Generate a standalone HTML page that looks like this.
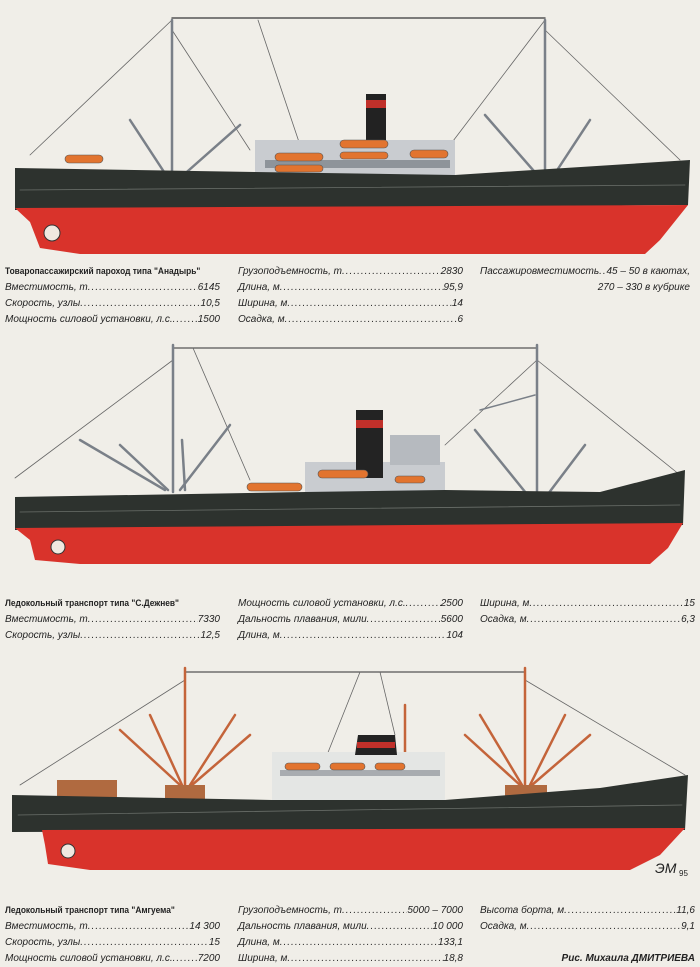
<!DOCTYPE html>
<html><head><meta charset="utf-8">
<style>
body{margin:0;background:#f0eee8;width:700px;height:959px;overflow:hidden;position:relative;font-family:"Liberation Sans",sans-serif;}
svg{position:absolute;left:0;top:0}
.col{position:absolute;font-size:10px;font-style:italic;color:#222;line-height:16px}
.t{font-style:normal;font-weight:bold;font-size:9.5px;transform:scaleX(.88);transform-origin:left;white-space:nowrap}
.r{display:flex;white-space:nowrap}
.r .d{flex:1;overflow:hidden;letter-spacing:1px}
.r .d:after{content:"..............................................................................................................."}
</style></head><body>
<svg width="700" height="959" viewBox="0 0 700 959">
<g stroke-linecap="round">
<!-- SHIP 1 -->
<line x1="172" y1="18" x2="545" y2="18" stroke="#555" stroke-width="1.5"/>
<g stroke="#666" stroke-width="0.8" fill="none">
<line x1="172" y1="20" x2="30" y2="155"/><line x1="172" y1="30" x2="250" y2="150"/>
<line x1="545" y1="20" x2="450" y2="145"/><line x1="545" y1="30" x2="680" y2="160"/>
<line x1="258" y1="20" x2="300" y2="145"/>
</g>
<g stroke="#7a8088" stroke-width="2.5">
<line x1="172" y1="20" x2="172" y2="180"/><line x1="545" y1="20" x2="545" y2="178"/>
<line x1="130" y1="120" x2="168" y2="178"/><line x1="240" y1="125" x2="180" y2="178"/>
<line x1="485" y1="115" x2="540" y2="178"/><line x1="590" y1="120" x2="552" y2="178"/>
<line x1="382" y1="108" x2="382" y2="140" stroke-width="1.5"/>
</g>
<rect x="255" y="140" width="200" height="38" fill="#c9ccd0"/>
<rect x="265" y="160" width="185" height="8" fill="#8e949a"/>
<rect x="366" y="94" width="20" height="46" fill="#222"/>
<rect x="366" y="100" width="20" height="8" fill="#c0302a"/>
<g fill="#e2742f" stroke="#555" stroke-width="0.6">
<rect x="275" y="153" width="48" height="8" rx="4"/><rect x="275" y="165" width="48" height="7" rx="3.5"/>
<rect x="340" y="140" width="48" height="8" rx="4"/><rect x="340" y="152" width="48" height="7" rx="3.5"/>
<rect x="410" y="150" width="38" height="8" rx="4"/>
<rect x="65" y="155" width="38" height="8" rx="4"/>
</g>
<polygon points="15,168 255,172 455,175 690,160 688,205 15,210" fill="#2d322e"/>
<line x1="20" y1="190" x2="685" y2="185" stroke="#6a6f6a" stroke-width="0.8"/>
<polygon points="15,208 688,205 660,240 645,254 80,254 40,248 30,222" fill="#d9332b"/>
<circle cx="52" cy="233" r="8" fill="#f0e8e0" stroke="#333"/>
<!-- SHIP 2 -->
<line x1="173" y1="348" x2="537" y2="348" stroke="#555" stroke-width="1.2"/>
<g stroke="#666" stroke-width="0.8" fill="none">
<line x1="193" y1="348" x2="250" y2="480"/><line x1="537" y1="360" x2="680" y2="475"/>
<line x1="537" y1="360" x2="445" y2="445"/><line x1="173" y1="360" x2="15" y2="478"/>
</g>
<g stroke="#7a8088" stroke-width="2.5">
<line x1="173" y1="345" x2="173" y2="492"/><line x1="537" y1="345" x2="537" y2="500"/>
<line x1="80" y1="440" x2="165" y2="490"/><line x1="120" y1="445" x2="168" y2="490"/>
<line x1="230" y1="425" x2="180" y2="490"/><line x1="182" y1="440" x2="185" y2="490"/>
<line x1="475" y1="430" x2="530" y2="498"/><line x1="585" y1="445" x2="545" y2="498"/>
<line x1="480" y1="410" x2="535" y2="395" stroke-width="1.5"/>
</g>
<rect x="305" y="462" width="140" height="30" fill="#c9ccd0"/>
<rect x="390" y="435" width="50" height="30" fill="#b6babf"/>
<rect x="356" y="410" width="27" height="68" fill="#232323"/>
<rect x="356" y="420" width="27" height="8" fill="#c0302a"/>
<g fill="#e2742f" stroke="#555" stroke-width="0.6">
<rect x="247" y="483" width="55" height="8" rx="4"/><rect x="318" y="470" width="50" height="8" rx="4"/><rect x="395" y="476" width="30" height="7" rx="3.5"/>
</g>
<polygon points="15,497 305,492 445,490 600,492 685,470 683,525 15,530" fill="#2d322e"/>
<line x1="20" y1="512" x2="680" y2="505" stroke="#6a6f6a" stroke-width="0.8"/>
<polygon points="15,528 683,523 668,548 650,564 80,564 35,560 30,540" fill="#d9332b"/>
<circle cx="58" cy="547" r="7" fill="#f0e8e0" stroke="#333"/>
<!-- SHIP 3 -->
<line x1="185" y1="672" x2="525" y2="672" stroke="#555" stroke-width="1.2"/>
<g stroke="#666" stroke-width="0.8" fill="none">
<line x1="185" y1="680" x2="20" y2="785"/><line x1="525" y1="680" x2="685" y2="775"/>
<line x1="360" y1="672" x2="325" y2="760"/><line x1="380" y1="672" x2="395" y2="735"/>
</g>
<g stroke="#c4643a" stroke-width="2.5">
<line x1="185" y1="668" x2="185" y2="790"/><line x1="525" y1="668" x2="525" y2="790"/>
<line x1="120" y1="730" x2="180" y2="785"/><line x1="150" y1="715" x2="182" y2="785"/>
<line x1="235" y1="715" x2="190" y2="785"/><line x1="250" y1="735" x2="192" y2="785"/>
<line x1="465" y1="735" x2="520" y2="785"/><line x1="480" y1="715" x2="522" y2="785"/>
<line x1="565" y1="715" x2="530" y2="785"/><line x1="590" y1="735" x2="532" y2="785"/>
<line x1="405" y1="705" x2="405" y2="760"/>
</g>
<rect x="272" y="752" width="173" height="50" fill="#e4e6e4"/>
<rect x="280" y="770" width="160" height="6" fill="#a8acb0"/>
<polygon points="355,755 358,735 395,735 397,755" fill="#232323"/>
<rect x="357" y="742" width="38" height="6" fill="#c0302a"/>
<g fill="#e2742f" stroke="#555" stroke-width="0.6">
<rect x="285" y="763" width="35" height="7" rx="3.5"/><rect x="330" y="763" width="35" height="7" rx="3.5"/><rect x="375" y="763" width="30" height="7" rx="3.5"/>
</g>
<rect x="57" y="780" width="60" height="18" fill="#b06a40"/>
<rect x="165" y="785" width="40" height="15" fill="#b06a40"/><rect x="505" y="785" width="42" height="15" fill="#b06a40"/>
<polygon points="12,795 272,800 445,800 600,788 688,775 685,830 12,832" fill="#2d322e"/>
<line x1="18" y1="815" x2="682" y2="805" stroke="#6a6f6a" stroke-width="0.8"/>
<polygon points="42,830 685,828 660,855 630,870 90,870 48,864 45,845" fill="#d9332b"/>
<circle cx="68" cy="851" r="7" fill="#f0e8e0" stroke="#333"/>
<text x="655" y="873" font-family="Liberation Sans" font-style="italic" font-size="14" fill="#222">ЭМ</text>
<text x="679" y="876" font-family="Liberation Sans" font-size="8" fill="#222">95</text>
</g>
</svg>

<div class="col" style="left:5px;top:264px;width:215px">
<div class="t">Товаропассажирский пароход типа "Анадырь"</div>
<div class="r"><span>Вместимость, т</span><span class="d"></span><span>6145</span></div>
<div class="r"><span>Скорость, узлы</span><span class="d"></span><span>10,5</span></div>
<div class="r"><span>Мощность силовой установки, л.с. </span><span class="d"></span><span>1500</span></div>
</div>
<div class="col" style="left:238px;top:264px;width:225px">
<div class="r"><span>Грузоподъемность, т</span><span class="d"></span><span>2830</span></div>
<div class="r"><span>Длина, м</span><span class="d"></span><span>95,9</span></div>
<div class="r"><span>Ширина, м</span><span class="d"></span><span>14</span></div>
<div class="r"><span>Осадка, м</span><span class="d"></span><span>6</span></div>
</div>
<div class="col" style="left:480px;top:264px;width:210px">
<div class="r"><span>Пассажировместимость</span><span class="d"></span><span>45 – 50 в каютах,</span></div>
<div style="text-align:right">270 – 330 в кубрике</div>
</div>

<div class="col" style="left:5px;top:596px;width:215px">
<div class="t">Ледокольный транспорт типа "С.Дежнев"</div>
<div class="r"><span>Вместимость, т</span><span class="d"></span><span>7330</span></div>
<div class="r"><span>Скорость, узлы</span><span class="d"></span><span>12,5</span></div>
</div>
<div class="col" style="left:238px;top:596px;width:225px">
<div class="r"><span>Мощность силовой установки, л.с. </span><span class="d"></span><span>2500</span></div>
<div class="r"><span>Дальность плавания, мили</span><span class="d"></span><span>5600</span></div>
<div class="r"><span>Длина, м</span><span class="d"></span><span>104</span></div>
</div>
<div class="col" style="left:480px;top:596px;width:215px">
<div class="r"><span>Ширина, м</span><span class="d"></span><span>15</span></div>
<div class="r"><span>Осадка, м</span><span class="d"></span><span>6,3</span></div>
</div>

<div class="col" style="left:5px;top:903px;width:215px">
<div class="t">Ледокольный транспорт типа "Амгуема"</div>
<div class="r"><span>Вместимость, т</span><span class="d"></span><span>14 300</span></div>
<div class="r"><span>Скорость, узлы</span><span class="d"></span><span>15</span></div>
<div class="r"><span>Мощность силовой установки, л.с. </span><span class="d"></span><span>7200</span></div>
</div>
<div class="col" style="left:238px;top:903px;width:225px">
<div class="r"><span>Грузоподъемность, т</span><span class="d"></span><span>5000 – 7000</span></div>
<div class="r"><span>Дальность плавания, мили</span><span class="d"></span><span>10 000</span></div>
<div class="r"><span>Длина, м</span><span class="d"></span><span>133,1</span></div>
<div class="r"><span>Ширина, м</span><span class="d"></span><span>18,8</span></div>
</div>
<div class="col" style="left:480px;top:903px;width:215px">
<div class="r"><span>Высота борта, м</span><span class="d"></span><span>11,6</span></div>
<div class="r"><span>Осадка, м</span><span class="d"></span><span>9,1</span></div>
<div>&nbsp;</div>
<div style="text-align:right;font-weight:bold">Рис. Михаила ДМИТРИЕВА</div>
</div>
</body></html>
